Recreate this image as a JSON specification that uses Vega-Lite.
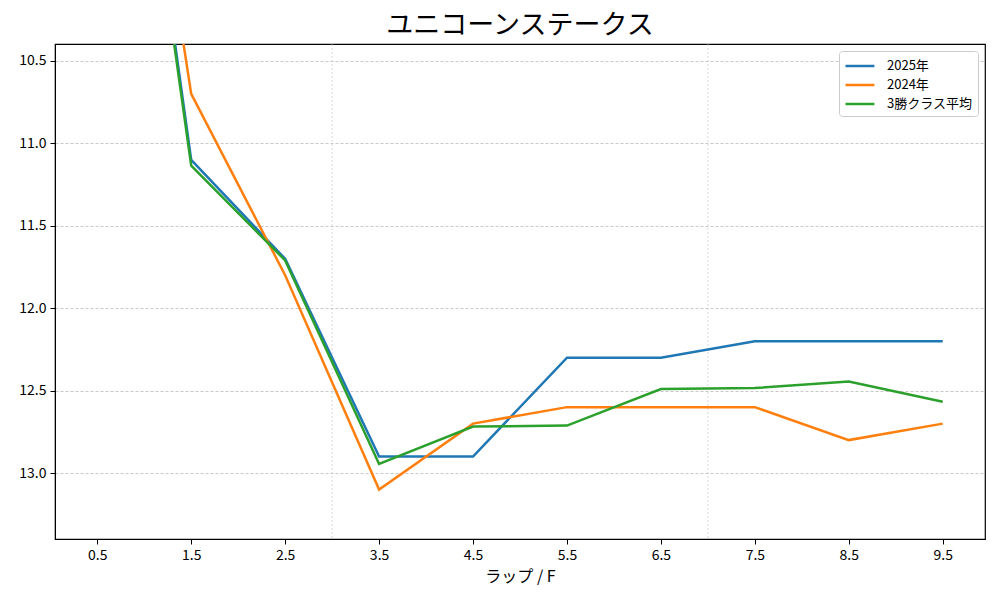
{
  "$schema": "https://vega.github.io/schema/vega-lite/v6.json",
  "autosize": "none",
  "width": 930,
  "height": 495,
  "padding": {"left": 55, "top": 44, "right": 15, "bottom": 61},
  "background": "white",
  "title": {
    "text": "ユニコーンステークス",
    "font": "Noto Sans CJK JP",
    "fontSize": 27,
    "fontWeight": "normal",
    "color": "black",
    "anchor": "middle",
    "offset": 4
  },
  "config": {
    "font": "Noto Sans CJK JP",
    "view": {"stroke": "black", "strokeWidth": 1.2},
    "axis": {
      "labelFont": "Noto Sans CJK JP",
      "labelFontSize": 14,
      "labelColor": "black",
      "tickColor": "black",
      "tickSize": 5,
      "domainColor": "black",
      "titleFont": "Noto Sans CJK JP",
      "titleFontWeight": "normal",
      "titleColor": "black"
    }
  },
  "datasets": {
    "laps": [
      {"lap": 0.5, "time": 7.0, "series": "2025年"},
      {"lap": 1.5, "time": 11.1, "series": "2025年"},
      {"lap": 2.5, "time": 11.7, "series": "2025年"},
      {"lap": 3.5, "time": 12.9, "series": "2025年"},
      {"lap": 4.5, "time": 12.9, "series": "2025年"},
      {"lap": 5.5, "time": 12.3, "series": "2025年"},
      {"lap": 6.5, "time": 12.3, "series": "2025年"},
      {"lap": 7.5, "time": 12.2, "series": "2025年"},
      {"lap": 8.5, "time": 12.2, "series": "2025年"},
      {"lap": 9.5, "time": 12.2, "series": "2025年"},
      {"lap": 0.5, "time": 7.0, "series": "2024年"},
      {"lap": 1.5, "time": 10.7, "series": "2024年"},
      {"lap": 2.5, "time": 11.8, "series": "2024年"},
      {"lap": 3.5, "time": 13.1, "series": "2024年"},
      {"lap": 4.5, "time": 12.7, "series": "2024年"},
      {"lap": 5.5, "time": 12.6, "series": "2024年"},
      {"lap": 6.5, "time": 12.6, "series": "2024年"},
      {"lap": 7.5, "time": 12.6, "series": "2024年"},
      {"lap": 8.5, "time": 12.8, "series": "2024年"},
      {"lap": 9.5, "time": 12.7, "series": "2024年"},
      {"lap": 0.5, "time": 7.07, "series": "3勝クラス平均"},
      {"lap": 1.5, "time": 11.135, "series": "3勝クラス平均"},
      {"lap": 2.5, "time": 11.71, "series": "3勝クラス平均"},
      {"lap": 3.5, "time": 12.945, "series": "3勝クラス平均"},
      {"lap": 4.5, "time": 12.718, "series": "3勝クラス平均"},
      {"lap": 5.5, "time": 12.712, "series": "3勝クラス平均"},
      {"lap": 6.5, "time": 12.49, "series": "3勝クラス平均"},
      {"lap": 7.5, "time": 12.484, "series": "3勝クラス平均"},
      {"lap": 8.5, "time": 12.445, "series": "3勝クラス平均"},
      {"lap": 9.5, "time": 12.567, "series": "3勝クラス平均"}
    ],
    "marks": [{"at": 3}, {"at": 7}]
  },
  "layer": [
    {
      "data": {"name": "marks"},
      "mark": {"type": "rule", "color": "#c8c8c8", "strokeWidth": 0.7, "strokeDash": [2, 2]},
      "encoding": {
        "x": {"field": "at", "type": "quantitative", "scale": {"domain": [0.05, 9.95], "nice": false, "zero": false}}
      }
    },
    {
      "data": {"name": "laps"},
      "mark": {"type": "line", "strokeWidth": 2.5, "clip": true},
      "encoding": {
        "x": {
          "field": "lap",
          "type": "quantitative",
          "scale": {"domain": [0.05, 9.95], "nice": false, "zero": false},
          "axis": {
            "values": [0.5, 1.5, 2.5, 3.5, 4.5, 5.5, 6.5, 7.5, 8.5, 9.5],
            "format": ".1f",
            "grid": false,
            "title": "ラップ / F",
            "titleFontSize": 16,
            "titlePadding": 6,
            "labelPadding": 4
          }
        },
        "y": {
          "field": "time",
          "type": "quantitative",
          "scale": {"domain": [10.397, 13.4], "reverse": true, "nice": false, "zero": false},
          "axis": {
            "values": [10.5, 11.0, 11.5, 12.0, 12.5, 13.0],
            "format": ".1f",
            "title": null,
            "grid": true,
            "gridColor": "#b0b0b0",
            "gridDash": [3, 2],
            "gridWidth": 0.7,
            "labelPadding": 4
          }
        },
        "color": {
          "field": "series",
          "type": "nominal",
          "sort": ["2025年", "2024年", "3勝クラス平均"],
          "scale": {"domain": ["2025年", "2024年", "3勝クラス平均"], "range": ["#1f77b4", "#ff7f0e", "#2ca02c"]},
          "legend": {
            "title": null,
            "orient": "top-right",
            "offset": 7,
            "fillColor": "white",
            "strokeColor": "#cccccc",
            "cornerRadius": 3,
            "padding": 5,
            "symbolType": "M-1,0H2.4",
            "symbolSize": 289,
            "symbolStrokeWidth": 2.5,
            "labelOffset": 23,
            "labelFontSize": 13,
            "labelColor": "black",
            "rowPadding": 2
          }
        }
      }
    }
  ]
}
